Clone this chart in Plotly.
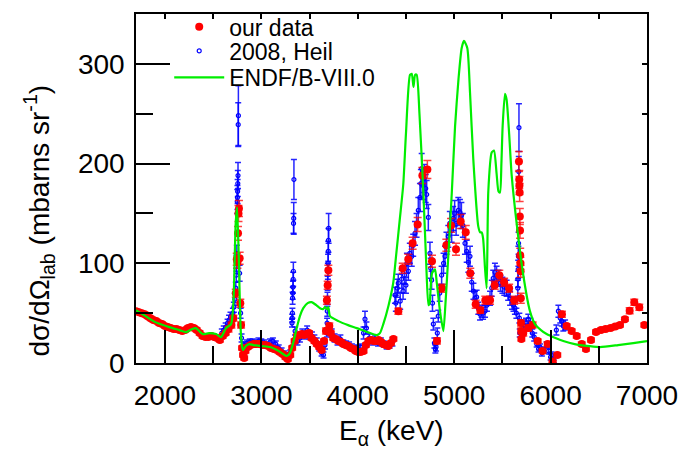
import plotly.graph_objects as go

# ---------------- data ----------------
# "our data" (red filled circles)
our_x = [1700, 1730, 1760, 1790, 1820, 1850, 1880, 1910, 1940, 1970, 2000, 2030, 2060, 2090, 2120,
         2150, 2180, 2210, 2240, 2270, 2300, 2330, 2360, 2390, 2420, 2450, 2480, 2510, 2540, 2570,
         2600, 2630, 2660, 2690, 2710,
         2735, 2745, 2752, 2758, 2763, 2768, 2775, 2782, 2790, 2800, 2810, 2822,
         2835, 2860, 2890, 2920, 2950, 2980, 3010, 3040, 3070, 3100, 3130, 3160, 3190, 3220, 3250,
         3275, 3300, 3320,
         3345, 3370, 3395, 3420, 3445, 3470, 3495, 3520, 3550, 3575, 3600, 3625, 3650, 3670, 3680,
         3688, 3695, 3705, 3720, 3745, 3770, 3800, 3825, 3850, 3875, 3900, 3930, 3955, 3980, 4005,
         4030, 4060, 4085, 4110, 4140, 4165, 4190, 4215, 4240, 4265, 4290, 4317, 4345, 4370,
         4421, 4466, 4524, 4569, 4621, 4670, 4722, 4770, 4822, 4874, 4919, 4967, 5019, 5068, 5120,
         5167, 5223, 5271, 5323, 5372, 5420, 5468, 5518, 5570, 5622,
         5672, 5675, 5677, 5679, 5681, 5683, 5685, 5687, 5689, 5691, 5693, 5695, 5697,
         5717, 5769, 5814, 5866, 5917, 5970, 6021, 6070, 6118, 6167, 6219, 6271, 6323, 6367, 6419,
         6471, 6523, 6571, 6623, 6671, 6720, 6771, 6820, 6868, 6920, 6972]
our_y = [52, 51, 50, 49, 47, 45, 43, 42, 40, 39, 37, 36, 35, 34, 34,
         33, 32, 33, 35, 36, 35, 33, 30, 27, 26, 26, 27, 26, 25, 23,
         27, 30, 34, 38, 45,
         70, 104, 101, 130, 150, 155, 105, 60, 38, 15, 8, 5,
         12, 16, 18, 19, 19, 19, 18, 18, 17, 15, 14, 13, 11, 9, 6,
         4, 8, 15,
         22, 27, 28, 29, 28, 29, 30, 25, 22, 19, 16, 13, 22, 32, 63,
         78, 93, 37, 30, 25, 24, 22, 21, 19, 18, 17, 15, 14, 12, 11,
         11, 12, 18, 22, 23, 22, 22, 23, 21, 19, 18, 17, 20, 24,
         52, 95, 104, 120, 139, 188, 194, 102, 22, 75, 118, 138, 114, 142, 131,
         90, 59, 53, 63, 63, 78, 88, 81, 75, 63,
         202, 184, 178, 171, 147, 133, 108, 100, 92, 65, 40, 32, 24,
         30, 35, 38, 22, 12, 19, 1.5, 8, 49, 37, 32, 27, 19, 14, 23,
         31, 33, 34, 35, 36.5, 38, 44, 52.5, 61, 56, 38]
our_err = [2, 2, 2, 2, 2, 2, 2, 2, 2, 2, 2, 2, 2, 2, 2,
           2, 2, 2, 2, 2, 2, 2, 2, 2, 2, 2, 2, 2, 2, 2,
           2, 2, 3, 3, 3,
           4, 6, 6, 7, 8, 8, 6, 4, 3, 2, 2, 2,
           2, 2, 2, 2, 2, 2, 2, 2, 2, 2, 2, 2, 2, 2, 2,
           2, 2, 2,
           2, 2, 2, 2, 2, 2, 2, 2, 2, 2, 2, 2, 2, 3, 4,
           4, 5, 3, 2, 2, 2, 2, 2, 2, 2, 2, 2, 2, 2, 2,
           2, 2, 2, 2, 2, 2, 2, 2, 2, 2, 2, 2, 2, 2,
           3, 5, 5, 6, 7, 8, 9, 6, 3, 4, 6, 7, 6, 7, 7,
           5, 4, 3, 4, 4, 4, 5, 4, 4, 4,
           10, 9, 9, 9, 8, 8, 7, 6, 6, 5, 3, 3, 2,
           3, 3, 3, 2, 2, 2, 1, 2, 3, 2, 2, 2, 2, 2, 2,
           2, 2, 2, 2, 2, 2, 2, 3, 3, 3, 2]

# "2008, Heil" (blue open circles)
heil_x = [2590, 2610, 2630, 2650, 2665, 2680, 2695, 2705, 2715, 2725,
          2735, 2740, 2743, 2746, 2750, 2752, 2754, 2756, 2758, 2760, 2762, 2775, 2785, 2795,
          2820, 2850, 2880, 2910, 2940, 2970, 3000, 3030, 3060, 3090, 3120, 3150, 3180, 3210,
          3240, 3270, 3300,
          3318, 3320, 3322, 3324, 3326, 3328, 3330, 3332, 3334, 3336, 3338,
          3350, 3375, 3400, 3425, 3450, 3475, 3500, 3525, 3550, 3575, 3600, 3625, 3645, 3660,
          3680, 3682, 3684, 3686, 3688, 3690, 3692, 3694, 3696, 3698,
          3730, 3760, 3790, 3820, 3850, 3880, 3910, 3940, 3970, 4000, 4030, 4060, 4075, 4090,
          4120, 4150, 4180, 4210, 4240, 4270, 4300, 4330, 4360, 4386, 4395, 4410, 4420,
          4440, 4455, 4470, 4485, 4500, 4510, 4525, 4540, 4560, 4575, 4594, 4610, 4628, 4645,
          4655, 4663, 4675, 4690, 4705, 4715, 4732, 4749, 4757, 4766, 4775, 4784, 4795, 4805,
          4812, 4825, 4835, 4850, 4870,
          4890, 4905, 4920, 4939, 4955, 4974, 4990, 5005, 5020, 5043, 5060, 5075, 5090, 5112,
          5130, 5147, 5164, 5182, 5200, 5216, 5233, 5250, 5268, 5285, 5300,
          5320, 5340, 5372, 5390, 5405, 5423, 5440, 5460, 5480, 5500, 5520, 5544, 5560, 5580,
          5600, 5615, 5630, 5645,
          5660, 5662, 5664, 5666, 5668, 5670, 5672, 5676, 5680,
          5720, 5745, 5769, 5790, 5810, 5830, 5856, 5875, 5890, 5910, 5930, 5959, 5980, 6000,
          6011, 6035, 6060, 6081, 6100, 6115, 6132, 6150]
heil_y = [30, 33, 36, 40, 43, 46, 44, 50, 56, 64,
          75, 88, 100, 110, 162, 166, 172, 180, 188, 239, 248, 90, 50, 25,
          18, 20, 21, 21, 20, 22, 21, 20, 18, 21, 22, 19, 15, 12,
          9, 7, 10,
          40, 45, 50, 65, 70, 76, 84, 92, 140, 145, 184,
          32, 22, 25, 30, 28, 33, 28, 27, 24, 21, 15, 10, 8, 18,
          30, 40, 52, 65, 80, 92, 100, 112, 123, 135,
          30, 25, 22, 24, 20, 19, 18, 16, 14, 15, 16, 30, 44, 35,
          25, 22, 24, 20, 22, 19, 17, 18, 21, 68, 60, 75, 80,
          62, 84, 72, 88, 78, 100, 92, 110, 107, 118, 130, 138, 153, 166,
          180, 195, 178, 185, 175, 169, 146, 110, 95, 83, 60, 39, 20, 14,
          16, 30, 47, 70, 88,
          100, 107, 120, 127, 140, 133, 145, 150, 140, 153, 151, 148, 138, 120,
          112, 101, 107, 81, 72, 65, 66, 55, 49, 52, 50,
          52, 58, 65, 75, 85, 91, 88, 85, 80, 78, 76, 75, 70, 65,
          60, 58, 55, 50,
          75, 84, 94, 107, 120, 192, 236, 45, 30,
          38, 40, 44, 40, 30, 26, 19, 14, 16, 10, 13, 18, 12, 6,
          8, 3, 33, 52, 45, 42, 37, 38]
heil_err = [4, 4, 4, 4, 5, 5, 5, 5, 5, 6,
            6, 7, 8, 8, 12, 12, 12, 13, 13, 22, 30, 8, 5, 4,
            3, 3, 3, 3, 3, 3, 3, 3, 3, 3, 3, 3, 3, 3,
            3, 3, 3,
            4, 4, 5, 6, 6, 6, 7, 9, 10, 16, 20,
            4, 4, 4, 4, 4, 4, 4, 4, 4, 4, 3, 3, 3, 4,
            4, 5, 5, 6, 7, 8, 9, 10, 12, 15,
            4, 4, 4, 4, 3, 3, 3, 3, 3, 3, 3, 6, 8, 6,
            4, 4, 4, 3, 3, 3, 3, 3, 4, 8, 8, 9, 9,
            8, 9, 8, 9, 8, 10, 9, 10, 10, 11, 12, 12, 13, 14,
            14, 15, 14, 14, 14, 14, 13, 11, 10, 9, 8, 6, 5, 4,
            4, 5, 6, 8, 9,
            10, 10, 11, 11, 12, 12, 12, 13, 12, 13, 13, 13, 12, 11,
            11, 10, 10, 9, 8, 7, 7, 6, 6, 6, 6,
            6, 6, 7, 8, 8, 9, 9, 8, 8, 8, 8, 8, 7, 7,
            6, 6, 6, 5,
            8, 8, 9, 10, 11, 15, 24, 5, 4,
            5, 5, 5, 5, 4, 4, 3, 3, 3, 3, 3, 3, 3, 3,
            3, 3, 5, 6, 5, 5, 5, 5]

# ENDF/B-VIII.0 (green line)
endf_x = [1700, 1800, 1900, 2045, 2150, 2219, 2280, 2322, 2392, 2460, 2530, 2582, 2633, 2686,
          2710, 2734, 2748, 2765, 2785, 2800, 2810, 2840, 2875, 2917, 3000, 3090, 3180, 3263,
          3297, 3330, 3367, 3400, 3435, 3480, 3522, 3570, 3609, 3640, 3660, 3680, 3695, 3712,
          3800, 3900, 3989, 4100, 4196, 4230, 4265, 4320, 4369, 4400, 4438, 4472, 4500,
          4542, 4560, 4578, 4595, 4611, 4640, 4680, 4710, 4733, 4745, 4770, 4801, 4820, 4853,
          4888, 4910, 4939, 4975, 5009, 5045, 5078, 5102, 5136, 5165, 5198, 5250, 5270, 5285,
          5300, 5320, 5337, 5354, 5389, 5413, 5440, 5460, 5475, 5490, 5503, 5527, 5544, 5570,
          5596, 5648, 5717, 5786, 5838, 5900, 5959, 6050, 6132, 6250, 6400, 6513, 6700, 6858,
          7000]
endf_y = [53, 47, 41, 36, 33, 31, 34, 35, 29, 30, 29, 26, 35, 39,
          60, 140, 156, 110, 35, 16, 13, 17, 19, 18, 17, 16, 12, 7,
          10, 20, 35, 47, 55, 60, 61, 58, 55, 54, 56, 54, 56, 47,
          42, 38, 35, 31, 28, 30, 39, 58, 81, 110, 146, 179, 230,
          289, 290, 277, 289, 289, 250, 172, 100, 58, 60, 90, 94, 80, 52,
          32, 60, 107, 170, 237, 285, 316, 323, 316, 270, 205, 137, 131, 131,
          125, 95, 75, 172, 211, 213, 190, 172, 171, 200, 238, 270, 264, 230,
          189, 140, 88, 52, 39, 33, 29, 25, 22, 19, 17, 16, 18, 20,
          22]

FONT = "Liberation Sans, Arial, sans-serif"

fig = go.Figure()

fig.add_trace(go.Scatter(
    x=heil_x, y=heil_y, mode="markers", name="2008, Heil", legend="legend2",
    marker=dict(symbol="circle-open", size=4, color="#0000ff", line=dict(width=1.2, color="#0000ff")),
    error_y=dict(type="data", array=heil_err, color="rgba(0,0,255,0.85)", thickness=1.5, width=3),
    hoverinfo="skip"))

fig.add_trace(go.Scatter(
    x=our_x, y=our_y, mode="markers", name="our data", legend="legend",
    marker=dict(symbol="circle", size=8, color="#ff0000"),
    error_y=dict(type="data", array=our_err, color="rgba(255,0,0,0.75)", thickness=1.5, width=4),
    hoverinfo="skip"))

fig.add_trace(go.Scatter(
    x=endf_x, y=endf_y, mode="lines", name="ENDF/B-VIII.0", legend="legend3",
    xaxis="x2", yaxis="y2",
    line=dict(color="#00ee00", width=2.2, shape="spline", smoothing=0.6),
    hoverinfo="skip"))

axis_common = dict(showgrid=False, zeroline=False, showline=True, linecolor="black",
                   linewidth=1.5, ticks="inside", tickcolor="black", tickwidth=1.5)


def legend_row(yc):
    return dict(x=0.065, y=yc, xanchor="left", yanchor="middle", bgcolor="rgba(0,0,0,0)",
                font=dict(family=FONT, size=23, color="black"), itemwidth=50)


fig.update_layout(
    width=697, height=451,
    margin=dict(l=136, r=50, t=5, b=88),
    paper_bgcolor="white", plot_bgcolor="white",
    font=dict(family=FONT, color="black", size=28),
    showlegend=True,
    legend=legend_row(0.963),
    legend2=legend_row(0.894),
    legend3=legend_row(0.8185),
    xaxis=dict(range=[1700, 7000], tick0=2000, dtick=1000, ticklen=33,
               tickfont=dict(family=FONT, size=28), ticklabelstandoff=7,
               minor=dict(dtick=500, tick0=2000, ticklen=17, ticks="inside", tickcolor="black",
                          tickwidth=1.5, showgrid=False),
               **axis_common),
    yaxis=dict(range=[0, 350], tick0=0, dtick=100, ticklen=34,
               tickfont=dict(family=FONT, size=28), ticklabelstandoff=4,
               minor=dict(dtick=50, tick0=0, ticklen=17, ticks="inside", tickcolor="black",
                          tickwidth=1.5, showgrid=False),
               **axis_common),
    xaxis2=dict(range=[1700, 7000], overlaying="x", side="top", tick0=2000, dtick=500,
                ticklen=5, showticklabels=False, **axis_common),
    yaxis2=dict(range=[0, 350], overlaying="y", side="right", tick0=0, dtick=50,
                ticklen=5, showticklabels=False, **axis_common),
    annotations=[
        dict(text="E<sub>α</sub> (keV)", xref="paper", yref="paper", x=0.5, y=-0.2,
             xanchor="center", yanchor="middle", showarrow=False,
             font=dict(family=FONT, size=28)),
        dict(text="dσ/dΩ<sub>lab</sub> (mbarns sr<sup>-1</sup>)", xref="paper", yref="paper",
             x=-0.19, y=0.408, xanchor="center", yanchor="middle", textangle=-90,
             showarrow=False, font=dict(family=FONT, size=28)),
    ],
)

# the page's default 8px body margin would shift the figure; remove it
fig.write_html("out.html", config={"displayModeBar": False},
               post_script="document.body.style.margin='0px';")
